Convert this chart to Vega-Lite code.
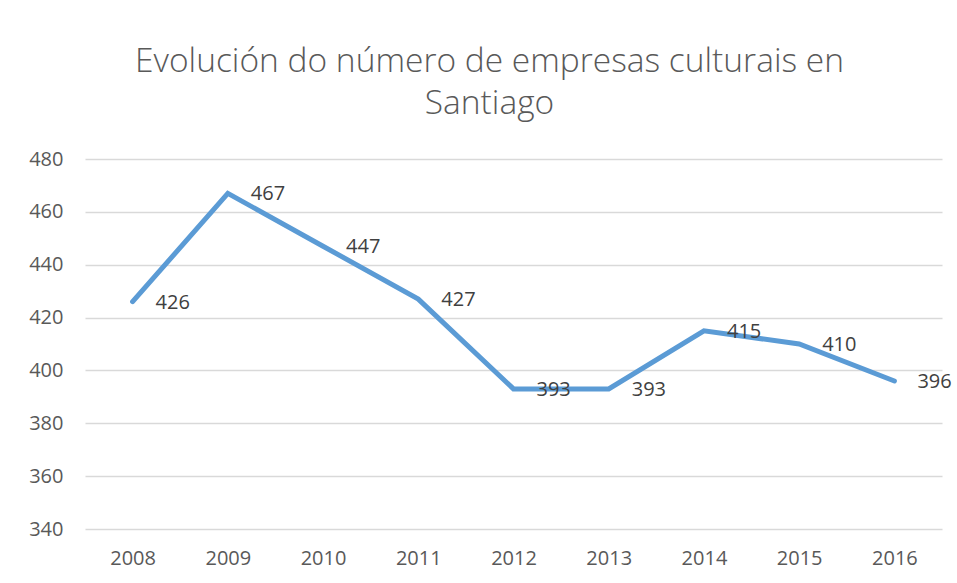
{
  "$schema": "https://vega.github.io/schema/vega-lite/v6.json",
  "width": 857,
  "height": 370,
  "autosize": {"type": "none"},
  "padding": {"left": 85, "top": 159, "right": 15, "bottom": 54},
  "background": "white",
  "title": {
    "text": ["Evolución do número de empresas culturais en", "Santiago"],
    "font": "Open Sans",
    "fontWeight": 300,
    "fontSize": 33.5,
    "color": "#595959",
    "lineHeight": 42,
    "anchor": "middle",
    "dx": -24,
    "offset": 28
  },
  "data": {
    "values": [
      {"year": "2008", "value": 426},
      {"year": "2009", "value": 467},
      {"year": "2010", "value": 447},
      {"year": "2011", "value": 427},
      {"year": "2012", "value": 393},
      {"year": "2013", "value": 393},
      {"year": "2014", "value": 415},
      {"year": "2015", "value": 410},
      {"year": "2016", "value": 396}
    ]
  },
  "encoding": {
    "x": {
      "field": "year",
      "type": "ordinal",
      "scale": {"type": "point", "padding": 0.5},
      "axis": {
        "title": null,
        "labelAngle": 0,
        "labelFont": "Open Sans",
        "labelFontSize": 20,
        "labelColor": "#595959",
        "labelPadding": 19,
        "ticks": false,
        "domain": false,
        "grid": false
      }
    },
    "y": {
      "field": "value",
      "type": "quantitative",
      "scale": {"domain": [340, 480], "nice": false, "zero": false},
      "axis": {
        "title": null,
        "values": [340, 360, 380, 400, 420, 440, 460, 480],
        "labelFont": "Open Sans",
        "labelFontSize": 20,
        "labelColor": "#595959",
        "labelPadding": 22,
        "ticks": false,
        "domain": false,
        "grid": true,
        "gridColor": "#D9D9D9",
        "gridWidth": 1.3
      }
    }
  },
  "layer": [
    {
      "mark": {"type": "line", "color": "#5B9BD5", "strokeWidth": 5, "strokeCap": "round", "strokeJoin": "miter"}
    },
    {
      "mark": {"type": "text", "align": "left", "baseline": "middle", "dx": 23, "dy": 1, "font": "Open Sans", "fontSize": 20, "color": "#404040"},
      "encoding": {"text": {"field": "value", "type": "quantitative"}}
    }
  ],
  "config": {"view": {"stroke": null}}
}
